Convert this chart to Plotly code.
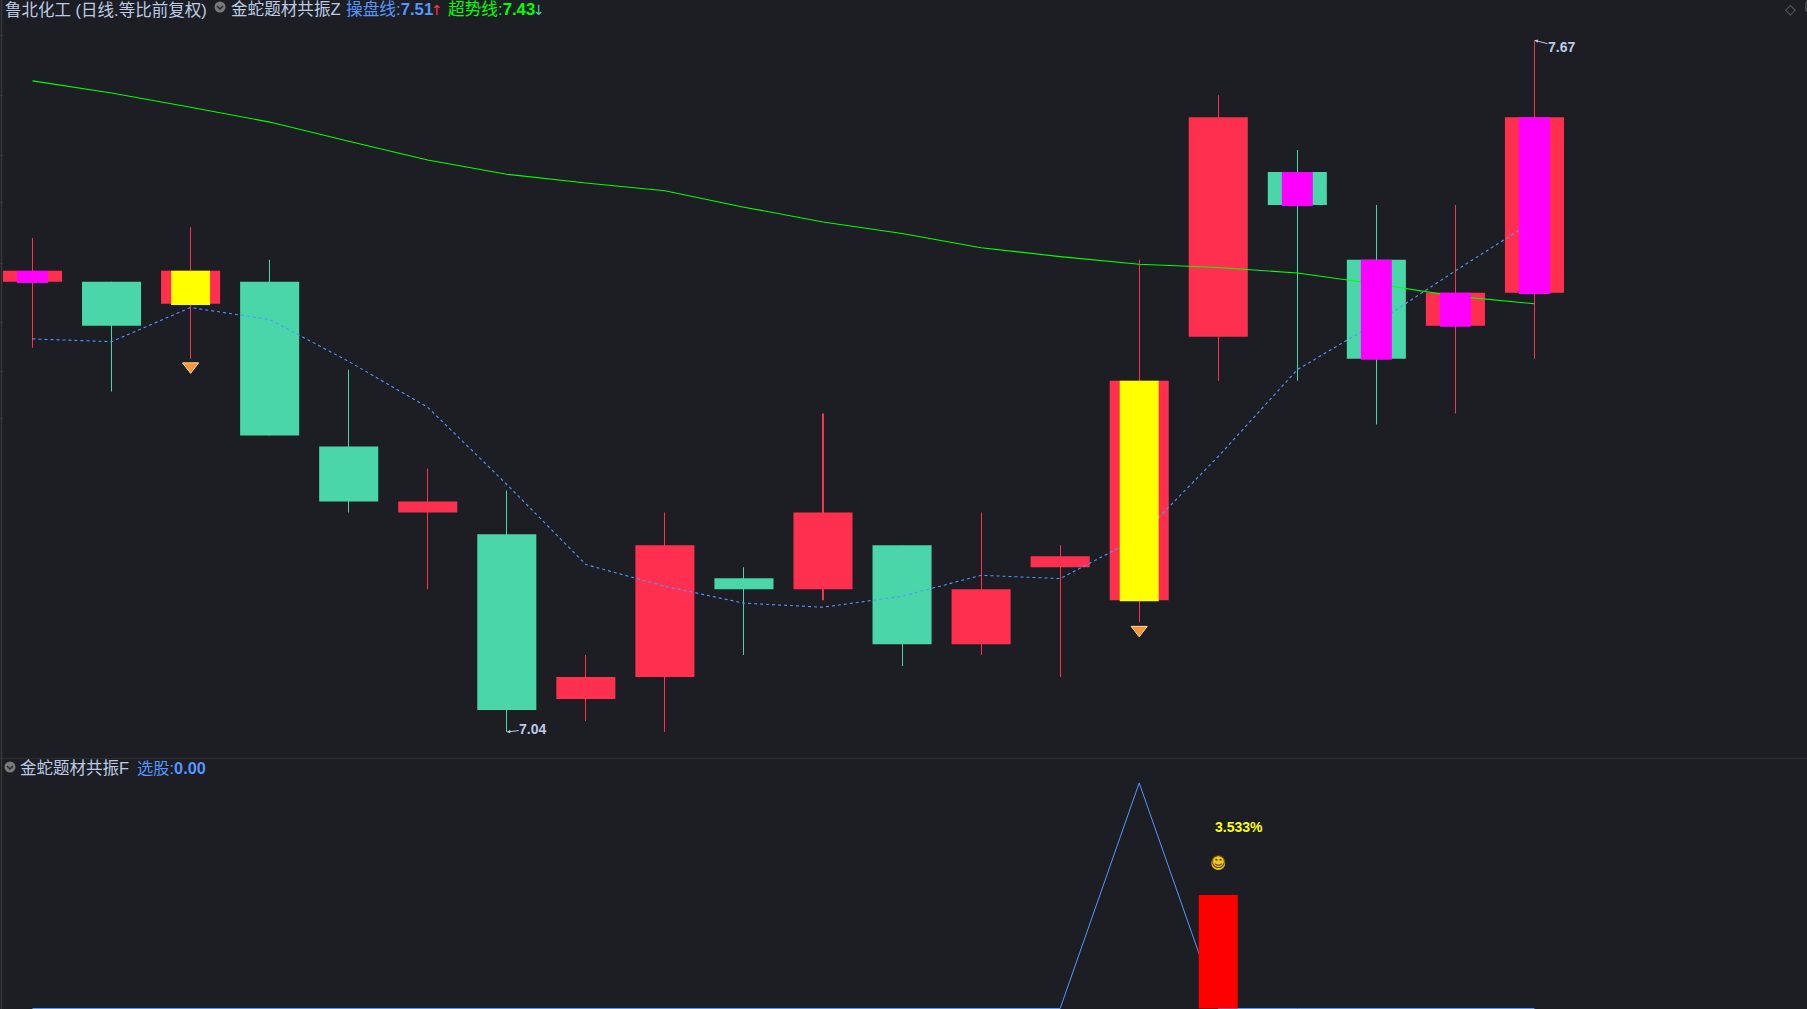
import plotly.graph_objects as go

W, H = 1807, 1009
BG = "#1c1e23"
RED = "#ff304f"
GREEN = "#4ad6a8"
BLUE = "#5596ff"
LABEL = "#bccbe3"
FONT = "Liberation Sans, Noto Sans CJK SC"

# daily candles
days = list(range(20))
open_ = [7.45, 7.45, 7.43, 7.45, 7.30, 7.24, 7.22, 7.07, 7.09, 7.18,
         7.17, 7.21, 7.12, 7.19, 7.16, 7.40, 7.55, 7.47, 7.41, 7.44]
close = [7.46, 7.41, 7.46, 7.31, 7.25, 7.25, 7.06, 7.09, 7.21, 7.17,
         7.24, 7.12, 7.17, 7.20, 7.36, 7.60, 7.52, 7.38, 7.44, 7.60]
high = [7.49, 7.45, 7.50, 7.47, 7.37, 7.28, 7.26, 7.11, 7.24, 7.19,
        7.33, 7.21, 7.24, 7.21, 7.47, 7.62, 7.57, 7.52, 7.52, 7.67]
low = [7.39, 7.35, 7.38, 7.31, 7.24, 7.17, 7.04, 7.05, 7.04, 7.11,
       7.16, 7.10, 7.11, 7.09, 7.14, 7.36, 7.36, 7.32, 7.33, 7.38]

# 操盘线 / 超势线
trade_line = [7.398, 7.3955, 7.4266, 7.4157, 7.3775, 7.3357, 7.2655, 7.1925, 7.1727, 7.1573,
              7.1536, 7.1636, 7.1827, 7.1797, 7.2173, 7.2909, 7.37, 7.4127, 7.46, 7.506]
trend_line = [7.633, 7.622, 7.609, 7.5955, 7.578, 7.561, 7.548, 7.54, 7.533, 7.518,
              7.5045, 7.494, 7.481, 7.473, 7.466, 7.463, 7.458, 7.448, 7.437, 7.43]

# highlighted candles
magenta_days = [0, 16, 17, 18, 19]
yellow_days = [2, 14]
gem_days = [2, 14]
gem_prices = [7.373, 7.133]
tick_prices = [7.674, 7.6195, 7.5655, 7.5227, 7.4664, 7.4127, 7.3682, 7.3255]

# lower pane
pick_line = [0, 0, 0, 0, 0, 0, 0, 0, 0, 0,
             0, 0, 0, 0, 7.02, 0, 0, 0, 0, 0]
pick_day = 15
pick_value = 3.533

colors = [RED if c >= o else GREEN for o, c in zip(open_, close)]
fig = go.Figure()

# wicks and bodies, very narrow wicks get snapped to one pixel column
fig.add_trace(go.Bar(x=days, y=[h - l for h, l in zip(high, low)], base=low, width=0.0005,
                     marker=dict(color=colors, line_width=0), yaxis="y"))
fig.add_trace(go.Bar(x=days, y=[abs(c - o) for o, c in zip(open_, close)],
                     base=[min(o, c) for o, c in zip(open_, close)], width=0.747,
                     marker=dict(color=colors, line_width=0), yaxis="y"))

# lines sit above the bodies
fig.add_trace(go.Scatter(x=days, y=trade_line, mode="lines", yaxis="y",
                         line=dict(color=BLUE, width=1.1, dash="3px,3px")))
fig.add_trace(go.Scatter(x=days, y=trend_line, mode="lines", yaxis="y",
                         line=dict(color="#00ff00", width=1.1)))
fig.add_trace(go.Scatter(x=gem_days, y=gem_prices, mode="markers", yaxis="y",
                         marker=dict(symbol="triangle-down", size=14, color="#f4963a",
                                     line=dict(color="#ffd9a0", width=1))))

# overlays go on their own axis so they cover the lines
def overlay(idx, color, width):
    tops = [max(open_[i], close[i]) for i in idx]
    bots = [min(open_[i], close[i]) - 0.001 for i in idx]
    fig.add_trace(go.Bar(x=idx, y=[t - b for t, b in zip(tops, bots)], base=bots, width=width,
                         marker=dict(color=color, line_width=0), yaxis="y3"))

overlay(magenta_days, "#ff00ff", 0.392)
overlay(yellow_days, "#ffff00", 0.493)

# lower pane
fig.add_trace(go.Scatter(x=days, y=pick_line, mode="lines", yaxis="y2",
                         line=dict(color=BLUE, width=1)))
fig.add_trace(go.Bar(x=[pick_day], y=[pick_value], width=0.493, yaxis="y4",
                     marker=dict(color="#ff0000", line_width=0)))
fig.add_trace(go.Scatter(x=[pick_day], y=[4.53], mode="markers+text", yaxis="y4",
                         text=["☺"], textposition="middle center",
                         textfont=dict(family="DejaVu Sans", size=15, color="#5a4300"),
                         marker=dict(symbol="circle", size=14, color="#f2c81e")))

def px(x):
    return x / W

def py(y):
    return 1 - y / H

def label(x, y, text, color=LABEL, size=15, family=FONT):
    fig.add_annotation(x=px(x), y=py(y), xref="paper", yref="paper", text=text, showarrow=False,
                       xanchor="left", yanchor="middle", borderpad=0, borderwidth=0,
                       font=dict(family=family, size=size, color=color))

label(5, 10, "鲁北化工 (日线.等比前复权)", size=16.5)
label(231, 10, "金蛇题材共振Z", size=16.6)
label(346, 10, "操盘线:<b>7.51</b>", BLUE, size=16.7)
label(431, 10, "↑", RED, size=14, family="DejaVu Sans")
label(448, 10, "超势线:<b>7.43</b>", "#00ff00", size=16.7)
label(533, 10, "↓", GREEN, size=14, family="DejaVu Sans")
label(20, 768, "金蛇题材共振F", size=16.5)
label(137, 768, "选股:<b>0.00</b>", BLUE, size=16.3)
label(1785, 9, "◇", "#666a70", size=14, family="DejaVu Sans")

# price extremes
fig.add_annotation(x=6, y=7.04, xref="x", yref="y", text="<b>7.04</b>", ax=26, ay=-3,
                   axref="pixel", ayref="pixel", arrowhead=2, arrowsize=0.7, arrowwidth=1,
                   arrowcolor=LABEL, standoff=0, borderpad=0,
                   font=dict(family=FONT, size=14, color=LABEL))
fig.add_annotation(x=19, y=7.67, xref="x", yref="y", text="<b>7.67</b>", ax=27, ay=7,
                   axref="pixel", ayref="pixel", arrowhead=2, arrowsize=0.7, arrowwidth=1,
                   arrowcolor=LABEL, standoff=0, borderpad=0,
                   font=dict(family=FONT, size=14, color=LABEL))
fig.add_annotation(x=pick_day, y=5.65, xref="x", yref="y2", text="<b>3.533%</b>", showarrow=False,
                   xanchor="left", xshift=-5, font=dict(family=FONT, size=14, color="#ffff00"))

# frame and small icons
paper = dict(xref="paper", yref="paper")
shapes = [
    dict(type="line", x0=0, x1=1, y0=py(758.5), y1=py(758.5), line=dict(color="#2c2e33", width=1), **paper),
    dict(type="line", x0=px(1.5), x1=px(1.5), y0=0, y1=1, line=dict(color="#36383d", width=1.5), **paper),
    dict(type="rect", x0=px(1806), x1=px(1810), y0=py(11), y1=py(2), line=dict(color="#666a70", width=1), **paper),
]
for cx, cy in [(220, 7), (10, 767)]:
    shapes.append(dict(type="circle", x0=px(cx - 5.5), x1=px(cx + 5.5), y0=py(cy + 5.5), y1=py(cy - 5.5),
                       fillcolor="#7a7a7a", line_width=0, **paper))
    shapes.append(dict(type="path", line=dict(color="#26282c", width=1.5), **paper,
                       path=f"M {px(cx - 3)} {py(cy - 1)} L {px(cx)} {py(cy + 2)} L {px(cx + 3)} {py(cy - 1)}"))

fig.update_layout(
    width=W, height=H, margin=dict(l=0, r=0, t=0, b=0),
    paper_bgcolor=BG, plot_bgcolor=BG, showlegend=False, barmode="overlay", hovermode=False,
    shapes=shapes,
    xaxis=dict(range=[-0.41113, 22.4478], visible=False, fixedrange=True, domain=[0, 1]),
    yaxis=dict(range=[7.0154, 7.7067], domain=[0.2478, 1], showgrid=False, zeroline=False,
               showticklabels=False, tickmode="array", tickvals=tick_prices, ticks="inside",
               ticklen=3, tickcolor="#36383d", fixedrange=True),
    yaxis3=dict(range=[7.0154, 7.7067], overlaying="y", visible=False, fixedrange=True),
    yaxis2=dict(range=[-0.0156, 7.765], domain=[0, 0.2478], visible=False, fixedrange=True),
    yaxis4=dict(range=[-0.0156, 7.765], overlaying="y2", visible=False, fixedrange=True),
)

fig.write_html("out.html", config={"displayModeBar": False},
               post_script="document.body.style.margin='0';document.body.style.overflow='hidden';")
